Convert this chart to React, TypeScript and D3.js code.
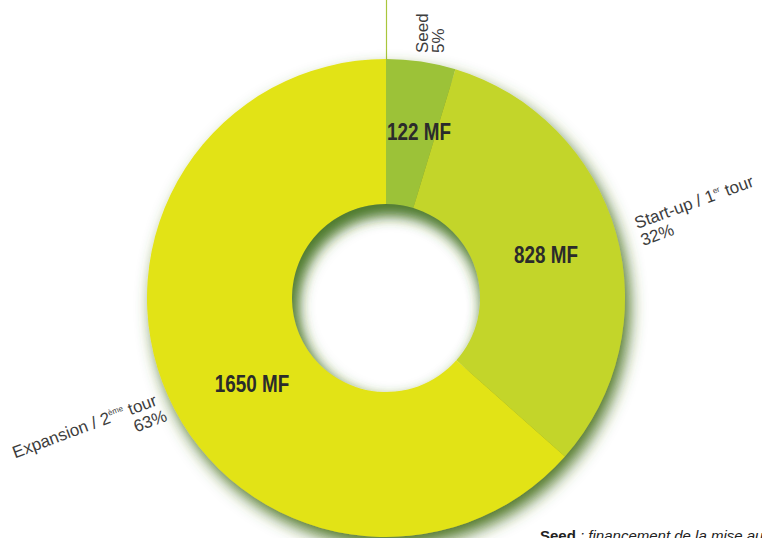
import { useEffect, useRef } from 'react';
import * as d3 from 'd3';

const categories = ['Seed', 'Start-up', 'Expansion'];
const amounts = [122, 828, 1650];
const percents = ['5%', '32%', '63%'];
const valueLabels = ['122 MF', '828 MF', '1650 MF'];
const colors = ['#9cc238', '#c3d52a', '#e2e317'];

export default function App() {
  const svgRef = useRef<SVGSVGElement | null>(null);

  useEffect(() => {
    if (!svgRef.current) return;
    const width = 762;
    const height = 538;
    const cx = 386;
    const cy = 298;
    const outerR = 239;
    const innerR = 94;

    const svg = d3.select(svgRef.current)
      .attr('width', width)
      .attr('height', height);
    svg.selectAll('*').remove();

    const defs = svg.append('defs');
    const f = defs.append('filter')
      .attr('id', 'shadow')
      .attr('x', '-20%').attr('y', '-20%')
      .attr('width', '140%').attr('height', '140%');
    f.append('feDropShadow')
      .attr('dx', 5)
      .attr('dy', 9)
      .attr('stdDeviation', 8)
      .attr('flood-color', '#476f1c')
      .attr('flood-opacity', 0.95);

    defs.append('filter')
      .attr('id', 'blur')
      .attr('x', '-30%').attr('y', '-30%')
      .attr('width', '160%').attr('height', '160%')
      .append('feGaussianBlur')
      .attr('stdDeviation', 7);

    defs.append('clipPath')
      .attr('id', 'hole')
      .append('circle')
      .attr('cx', cx).attr('cy', cy).attr('r', innerR);

    svg.append('rect')
      .attr('width', width).attr('height', height).attr('fill', '#fff');

    // leader line to the seed label
    svg.append('line')
      .attr('x1', cx + 0.5).attr('x2', cx + 0.5)
      .attr('y1', 0).attr('y2', cy - outerR)
      .attr('stroke', '#a9c63c')
      .attr('stroke-width', 1.2);

    const pie = d3.pie<number>().sort(null).value(d => d);
    const arcs = pie(amounts);
    const arc = d3.arc<d3.PieArcDatum<number>>()
      .innerRadius(innerR)
      .outerRadius(outerR);

    const g = svg.append('g')
      .attr('transform', `translate(${cx},${cy})`)
      .attr('filter', 'url(#shadow)');

    g.selectAll('path')
      .data(arcs)
      .join('path')
      .attr('d', arc)
      .attr('fill', (d, i) => colors[i]);

    // extra inner shadow in the hole
    svg.append('g')
      .attr('clip-path', 'url(#hole)')
      .append('circle')
      .attr('cx', cx + 3).attr('cy', cy + 9)
      .attr('r', innerR + 14)
      .attr('fill', 'none')
      .attr('stroke', '#4a7a2c')
      .attr('stroke-width', 28)
      .attr('stroke-opacity', 0.75)
      .attr('filter', 'url(#blur)');

    // value labels (condensed bold)
    const labelPos = [
      [33, -158],
      [160, -35],
      [-134, 94],
    ];
    svg.append('g')
      .attr('transform', `translate(${cx},${cy})`)
      .selectAll('text')
      .data(valueLabels)
      .join('text')
      .attr('transform', (d, i) => `translate(${labelPos[i][0]},${labelPos[i][1]}) scale(0.82,1)`)
      .attr('text-anchor', 'middle')
      .attr('font-family', '"Liberation Sans", Arial, sans-serif')
      .attr('font-weight', 'bold')
      .attr('font-size', 23)
      .attr('fill', '#2b2b2b')
      .text(d => d);

    const labelStyle = (t: any) => t
      .attr('font-family', '"Liberation Sans", Arial, sans-serif')
      .attr('font-size', 17)
      .attr('fill', '#3d3d3d');

    // Seed label (vertical)
    const seed = svg.append('text')
      .attr('transform', 'translate(428,53) rotate(-90)')
      .call(labelStyle);
    seed.append('tspan').attr('x', 0).attr('y', 0).text(categories[0]);
    seed.append('tspan').attr('x', 0).attr('y', 16).text(percents[0]);

    // Start-up label
    const start = svg.append('text')
      .attr('transform', 'translate(637,229) rotate(-20)')
      .call(labelStyle);
    const s1 = start.append('tspan').attr('x', 0).attr('y', 0);
    s1.append('tspan').text('Start-up / 1');
    s1.append('tspan').attr('font-size', 8).attr('dy', -7).text('er');
    s1.append('tspan').attr('dy', 7).text(' tour');
    start.append('tspan').attr('x', 0).attr('y', 18).text(percents[1]);

    // Expansion label
    const exp = svg.append('text')
      .attr('transform', 'translate(158,405) rotate(-20.5)')
      .attr('text-anchor', 'end')
      .call(labelStyle);
    const e1 = exp.append('tspan').attr('x', 0).attr('y', 0);
    e1.append('tspan').text(`${categories[2]} / 2`);
    e1.append('tspan').attr('font-size', 8).attr('dy', -7).text('ème');
    e1.append('tspan').attr('dy', 7).text(' tour');
    exp.append('tspan').attr('x', 4).attr('y', 18).text(percents[2]);

    // footnote (cut at the bottom, as in the source)
    const note = svg.append('text')
      .attr('x', 540)
      .attr('y', 541)
      .attr('font-family', '"Liberation Sans", Arial, sans-serif')
      .attr('font-size', 15)
      .attr('fill', '#222');
    note.append('tspan').attr('font-weight', 'bold').text('Seed');
    note.append('tspan').attr('font-style', 'italic').text(' : financement de la mise au point');
  }, []);

  return (
    <svg
      ref={svgRef}
      style={{ position: 'absolute', left: 0, top: 0, display: 'block' }}
    ></svg>
  );
}
